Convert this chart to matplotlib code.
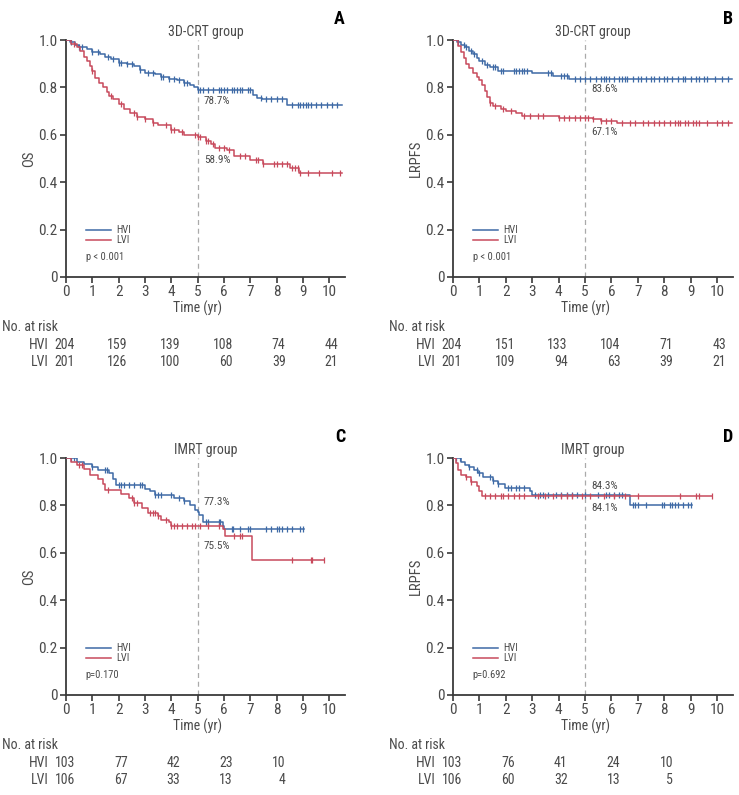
import matplotlib
matplotlib.use("Agg")
from matplotlib import pyplot as plt
from matplotlib import font_manager
import numpy as np

# pick a condensed face if one is installed, the reference uses a narrow sans
_fonts = font_manager.fontManager.ttflist
_names = {f.name for f in _fonts}
FAMILY = ['Liberation Sans', 'DejaVu Sans']
STRETCH = 'normal'
for cand in ['Liberation Sans Narrow', 'Roboto Condensed', 'Open Sans Condensed']:
    if cand in _names:
        FAMILY = [cand, 'DejaVu Sans']
        break
else:
    if any(f.name == 'DejaVu Sans' and f.stretch == 'condensed' for f in _fonts):
        FAMILY = ['DejaVu Sans']
        STRETCH = 'condensed'
    elif any(f.name == 'Roboto' and f.stretch == 'condensed' for f in _fonts):
        FAMILY = ['Roboto', 'DejaVu Sans']
        STRETCH = 'condensed'
plt.rcParams['font.family'] = FAMILY
plt.rcParams['font.stretch'] = STRETCH

BLUE = '#3e6aa6'
RED = '#c84a5c'
GREY = '#4a4a4a'

# ---- panel A: OS, 3D-CRT ----
a_hvi_t = [0, 0.15, 0.35, 0.5, 0.8, 1.0, 1.3, 1.5, 1.7, 2.0, 2.3, 2.6, 2.8, 3.0, 3.4, 3.6, 3.9, 4.2, 4.5, 4.7, 4.85, 5.0, 7.1, 7.25, 7.45, 8.4]
a_hvi_s = [1.0, 0.99, 0.98, 0.97, 0.96, 0.95, 0.94, 0.93, 0.92, 0.905, 0.9, 0.89, 0.875, 0.86, 0.855, 0.845, 0.835, 0.83, 0.82, 0.81, 0.80, 0.787, 0.77, 0.755, 0.75, 0.727]
a_hvi_end = 10.5
a_hvi_cens = [0.2, 0.5, 0.6, 1.0, 1.2, 1.6, 1.8, 2.0, 2.1, 2.3, 2.5, 2.8, 3.1, 3.3, 3.6, 3.7, 3.9, 4.1, 4.3, 4.5, 4.6,
              5.0, 5.1, 5.2, 5.4, 5.6, 5.8, 5.9, 6.0, 6.1, 6.3, 6.4, 6.5, 6.6, 6.7, 6.9, 7.0, 7.4, 7.6, 7.8, 8.0, 8.2,
              8.6, 8.8, 8.9, 9.0, 9.1, 9.2, 9.3, 9.5, 9.7, 9.9, 10.1, 10.3]
a_lvi_t = [0, 0.2, 0.4, 0.55, 0.7, 0.8, 0.9, 1.0, 1.1, 1.25, 1.4, 1.55, 1.65, 1.8, 2.0, 2.2, 2.45, 2.7, 3.0, 3.3, 3.5,
           4.0, 4.3, 4.5, 5.0, 5.3, 5.5, 5.65, 6.1, 6.4, 7.0, 7.5, 8.5, 8.85]
a_lvi_s = [1.0, 0.985, 0.97, 0.955, 0.93, 0.91, 0.89, 0.87, 0.84, 0.82, 0.80, 0.78, 0.765, 0.75, 0.73, 0.71, 0.69, 0.675,
           0.665, 0.65, 0.64, 0.62, 0.61, 0.60, 0.589, 0.575, 0.56, 0.545, 0.535, 0.51, 0.495, 0.478, 0.46, 0.437]
a_lvi_end = 10.5
a_lvi_cens = [0.3, 1.0, 1.7, 2.1, 2.6, 2.7, 3.0, 3.3, 3.8, 4.0, 4.1, 4.4, 4.9, 5.0, 5.1, 5.3, 5.4, 5.6, 5.8, 6.0, 6.2,
              6.6, 6.8, 7.2, 7.3, 7.5, 7.9, 8.0, 8.2, 8.4, 8.6, 8.7, 8.8, 8.9, 9.2, 9.6, 10.1, 10.4]

# ---- panel B: LRPFS, 3D-CRT ----
b_hvi_t = [0, 0.15, 0.3, 0.45, 0.6, 0.75, 0.9, 1.0, 1.2, 1.4, 1.7, 3.0, 3.8, 4.4]
b_hvi_s = [1.0, 0.99, 0.98, 0.97, 0.955, 0.94, 0.925, 0.91, 0.895, 0.885, 0.87, 0.86, 0.85, 0.836]
b_hvi_end = 10.55
b_hvi_cens = [0.2, 0.4, 0.5, 0.7, 0.8, 1.1, 1.3, 1.5, 1.6, 1.8, 1.9, 2.3, 2.4, 2.5, 2.6, 2.7, 2.8, 3.6, 3.7, 4.1, 4.2,
              4.3, 4.6, 4.8, 5.0, 5.2, 5.4, 5.6, 5.7, 5.8, 5.9, 6.1, 6.3, 6.4, 6.5, 6.6, 6.8, 7.0, 7.1, 7.3, 7.5, 7.6,
              7.8, 8.0, 8.1, 8.3, 8.5, 8.7, 8.8, 9.0, 9.2, 9.3, 9.5, 9.6, 9.9, 10.2, 10.4]
b_lvi_t = [0, 0.2, 0.3, 0.4, 0.5, 0.6, 0.75, 0.9, 1.0, 1.1, 1.2, 1.3, 1.4, 1.5, 1.8, 2.0, 2.4, 2.6, 4.0, 5.3, 5.6, 6.2]
b_lvi_s = [1.0, 0.975, 0.95, 0.925, 0.9, 0.88, 0.86, 0.845, 0.83, 0.81, 0.785, 0.76, 0.735, 0.72, 0.71, 0.70, 0.69,
           0.678, 0.671, 0.665, 0.66, 0.651]
b_lvi_end = 10.55
b_lvi_cens = [1.4, 1.6, 1.9, 2.2, 2.7, 2.9, 3.2, 3.4, 4.0, 4.2, 4.4, 4.6, 4.8, 5.0, 5.1, 5.3, 5.6, 5.8, 6.0, 6.4, 6.7,
              6.9, 7.2, 7.4, 7.6, 7.8, 8.0, 8.2, 8.4, 8.5, 8.6, 8.8, 8.9, 9.1, 9.2, 9.3, 9.6, 10.0, 10.2, 10.4]

# ---- panel C: OS, IMRT ----
c_hvi_t = [0, 0.4, 0.7, 1.0, 1.2, 1.65, 1.8, 1.9, 3.0, 3.2, 3.4, 4.1, 4.5, 4.7, 4.9, 5.0, 5.05, 5.2, 5.95, 6.0]
c_hvi_s = [1.0, 0.985, 0.975, 0.96, 0.95, 0.935, 0.91, 0.885, 0.87, 0.86, 0.845, 0.83, 0.82, 0.80, 0.78, 0.773, 0.76,
           0.73, 0.715, 0.70]
c_hvi_end = 9.05
c_hvi_cens = [0.2, 0.3, 1.0, 1.5, 1.55, 2.0, 2.1, 2.2, 2.4, 2.6, 2.8, 2.9, 3.4, 3.5, 3.6, 4.0, 4.3, 4.5, 5.3, 5.4, 5.8,
              5.85, 6.3, 6.35, 6.6, 6.9, 7.0, 7.6, 7.8, 8.0, 8.1, 8.2, 8.4, 8.6, 8.9, 9.0]
c_lvi_t = [0, 0.2, 0.4, 0.7, 0.9, 1.2, 1.4, 1.5, 2.1, 2.4, 2.6, 2.9, 3.1, 3.5, 3.6, 3.9, 4.0, 5.95, 6.05, 7.05]
c_lvi_s = [1.0, 0.985, 0.97, 0.955, 0.93, 0.91, 0.89, 0.865, 0.85, 0.83, 0.81, 0.79, 0.77, 0.755, 0.74, 0.73, 0.715,
           0.70, 0.67, 0.57]
c_lvi_end = 9.8
c_lvi_cens = [0.5, 0.6, 1.6, 2.5, 2.6, 2.7, 3.2, 3.3, 3.4, 3.5, 3.8, 4.0, 4.1, 4.2, 4.4, 4.6, 4.8, 4.9, 5.1, 5.4, 5.8,
              6.4, 6.6, 6.7, 8.6, 9.3, 9.35, 9.8]

# ---- panel D: LRPFS, IMRT ----
d_hvi_t = [0, 0.3, 0.45, 0.6, 0.8, 0.95, 1.15, 1.5, 1.7, 1.95, 2.9, 3.0, 6.7]
d_hvi_s = [1.0, 0.985, 0.97, 0.96, 0.95, 0.935, 0.92, 0.905, 0.89, 0.875, 0.86, 0.843, 0.80]
d_hvi_end = 9.05
d_hvi_cens = [0.1, 0.25, 0.6, 0.9, 1.0, 1.4, 1.5, 1.7, 2.1, 2.2, 2.4, 2.5, 2.7, 3.1, 3.3, 3.4, 3.6, 3.9, 4.1, 4.3, 4.5,
              4.7, 5.0, 5.5, 5.8, 5.9, 6.1, 6.3, 6.4, 6.8, 6.9, 7.0, 7.3, 7.9, 8.0, 8.2, 8.3, 8.4, 8.5, 8.7, 8.9, 9.0]
d_lvi_t = [0, 0.12, 0.2, 0.3, 0.5, 0.7, 0.9, 1.0, 1.1]
d_lvi_s = [1.0, 0.98, 0.95, 0.93, 0.92, 0.90, 0.88, 0.86, 0.841]
d_lvi_end = 9.8
d_lvi_cens = [0.5, 0.7, 1.2, 1.4, 1.6, 1.8, 1.9, 2.1, 2.3, 2.5, 2.7, 3.2, 3.5, 3.8, 4.1, 4.3, 4.5, 4.9, 5.2, 5.7, 6.1,
              6.5, 7.0, 8.6, 9.2, 9.3, 9.8]

# ---- risk tables ----
risk_times_crt = [0, 2, 4, 6, 8, 10]
risk_times_imrt = [0, 2, 4, 6, 8]
a_risk_hvi = [204, 159, 139, 108, 74, 44]
a_risk_lvi = [201, 126, 100, 60, 39, 21]
b_risk_hvi = [204, 151, 133, 104, 71, 43]
b_risk_lvi = [201, 109, 94, 63, 39, 21]
c_risk_hvi = [103, 77, 42, 23, 10]
c_risk_lvi = [106, 67, 33, 13, 4]
d_risk_hvi = [103, 76, 41, 24, 10]
d_risk_lvi = [106, 60, 32, 13, 5]

panels = [
    dict(letter='A', title='3D-CRT group', ylabel='OS', p='p < 0.001',
         hvi=(a_hvi_t, a_hvi_s, a_hvi_end, a_hvi_cens), lvi=(a_lvi_t, a_lvi_s, a_lvi_end, a_lvi_cens),
         pct=[('78.7%', 0.742), ('58.9%', 0.493)],
         risk=(risk_times_crt, a_risk_hvi, a_risk_lvi)),
    dict(letter='B', title='3D-CRT group', ylabel='LRPFS', p='p < 0.001',
         hvi=(b_hvi_t, b_hvi_s, b_hvi_end, b_hvi_cens), lvi=(b_lvi_t, b_lvi_s, b_lvi_end, b_lvi_cens),
         pct=[('83.6%', 0.793), ('67.1%', 0.613)],
         risk=(risk_times_crt, b_risk_hvi, b_risk_lvi)),
    dict(letter='C', title='IMRT group', ylabel='OS', p='p=0.170',
         hvi=(c_hvi_t, c_hvi_s, c_hvi_end, c_hvi_cens), lvi=(c_lvi_t, c_lvi_s, c_lvi_end, c_lvi_cens),
         pct=[('77.3%', 0.815), ('75.5%', 0.627)],
         risk=(risk_times_imrt, c_risk_hvi, c_risk_lvi)),
    dict(letter='D', title='IMRT group', ylabel='LRPFS', p='p=0.692',
         hvi=(d_hvi_t, d_hvi_s, d_hvi_end, d_hvi_cens), lvi=(d_lvi_t, d_lvi_s, d_lvi_end, d_lvi_cens),
         pct=[('84.3%', 0.88), ('84.1%', 0.79)],
         risk=(risk_times_imrt, d_risk_hvi, d_risk_lvi)),
]

W, H = 739, 795
fig = plt.figure(figsize=(W / 100, H / 100), dpi=100)

# axes boxes in pixels: left, top(y=1.0), right, bottom(y=0)
boxes = [(66, 40, 345, 277), (453, 40, 733, 277), (66, 458, 345, 695), (453, 458, 733, 695)]


def draw_km(ax, t, s, end, cens, color):
    t = np.asarray(t, float)
    s = np.asarray(s, float)
    tt = np.append(t, end)
    ss = np.append(s, s[-1])
    ax.step(tt, ss, where='post', color=color, lw=1.1, zorder=3)
    idx = np.searchsorted(t, np.asarray(cens), side='right') - 1
    ax.plot(cens, s[idx], ls='none', marker='|', ms=4.5, mew=0.9, color=color, zorder=3)


for pan, (l, tp, r, b) in zip(panels, boxes):
    ax = fig.add_axes([l / W, 1 - b / H, (r - l) / W, (b - tp) / H])
    ax.set_xlim(0, 10.6)
    ax.set_ylim(0, 1.0)
    for sp in ['top', 'right']:
        ax.spines[sp].set_visible(False)
    for sp in ['left', 'bottom']:
        ax.spines[sp].set_color('#3a3a3a')
        ax.spines[sp].set_linewidth(1.3)
        ax.spines[sp].set_clip_on(False)
    ax.set_xticks(range(0, 11))
    ax.set_yticks([0, 0.2, 0.4, 0.6, 0.8, 1.0])
    ax.set_yticklabels(['0', '0.2', '0.4', '0.6', '0.8', '1.0'])
    ax.tick_params(direction='out', length=4, width=1.2, color='#3a3a3a', labelsize=11,
                   labelcolor=GREY, pad=2)
    ax.set_ylabel(pan['ylabel'], fontsize=10.5, color=GREY, labelpad=2)
    ax.set_title(pan['title'], fontsize=10, color=GREY, pad=3)

    ax.axvline(5, color='#aaaaaa', lw=0.9, ls=(0, (4, 3)), zorder=1, clip_on=False)

    draw_km(ax, *pan['hvi'], BLUE)
    draw_km(ax, *pan['lvi'], RED)

    for txt, yv in pan['pct']:
        ax.text(5.23, yv, txt, fontsize=8, color=GREY, va='center', ha='left')

    # legend
    ax.plot([0.75, 1.7], [0.2, 0.2], color=BLUE, lw=1.1)
    ax.plot([0.75, 1.7], [0.155, 0.155], color=RED, lw=1.1)
    ax.text(1.9, 0.2, 'HVI', fontsize=7.5, color=GREY, va='center')
    ax.text(1.9, 0.155, 'LVI', fontsize=7.5, color=GREY, va='center')
    ax.text(0.75, 0.085, pan['p'], fontsize=7.5, color=GREY, va='center')

    ax.text(1.0, 1.09, pan['letter'], transform=ax.transAxes, fontsize=13, fontweight='bold',
            color='black', ha='right', va='center')

    # number-at-risk table
    bottom_tr = ('data', 'axes fraction')
    ax.annotate('Time (yr)', xy=(5, 0), xycoords=bottom_tr, xytext=(0, -31), textcoords='offset pixels',
                ha='center', va='center', fontsize=10, color=GREY, annotation_clip=False)
    ax.annotate('No. at risk', xy=(0, 0), xycoords=bottom_tr, xytext=(-64, -50), textcoords='offset pixels',
                ha='left', va='center', fontsize=10, color=GREY, annotation_clip=False)
    rt, rh, rl = pan['risk']
    for name, vals, dy in [('HVI', rh, -68), ('LVI', rl, -85)]:
        ax.annotate(name, xy=(0, 0), xycoords=bottom_tr, xytext=(-17, dy), textcoords='offset pixels',
                    ha='right', va='center', fontsize=10, color=GREY, annotation_clip=False)
        for x, v in zip(rt, vals):
            ax.annotate(str(v), xy=(x, 0), xycoords=bottom_tr, xytext=(9, dy), textcoords='offset pixels',
                        ha='right', va='center', fontsize=10, color=GREY, annotation_clip=False)

fig.savefig('out.png', dpi=100)
